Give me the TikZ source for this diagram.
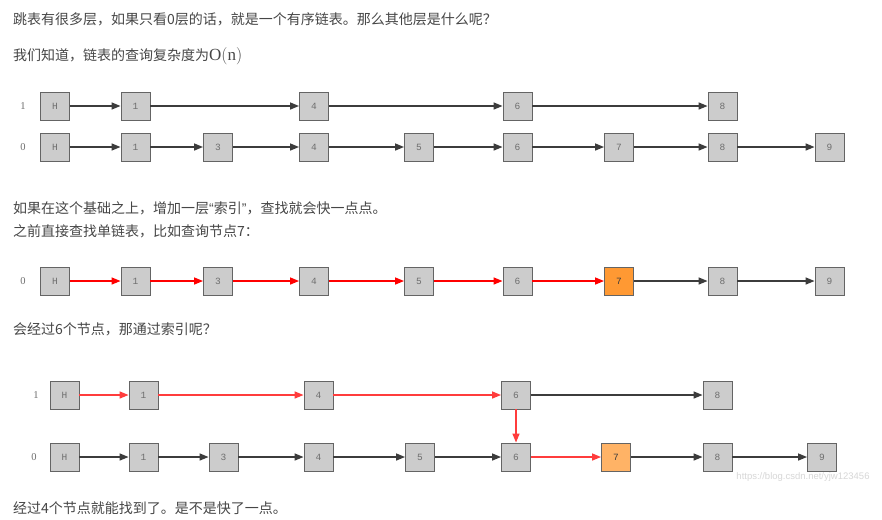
\documentclass[tikz,border=0pt]{standalone}
\usepackage{fontspec}
\setmainfont{Liberation Serif}
\setmonofont{Liberation Mono}
\newfontfamily\cjk{Noto Sans CJK SC}
\newfontfamily\wmfont{Liberation Sans}
\usetikzlibrary{arrows.meta}
\definecolor{sknode}{RGB}{204,204,204}
\definecolor{skedge}{RGB}{100,100,100}
\definecolor{sklabel}{RGB}{110,110,110}
\definecolor{skgray}{RGB}{60,60,60}
\definecolor{skred}{RGB}{255,0,0}
\definecolor{skredl}{RGB}{255,60,60}
\definecolor{skorange}{RGB}{255,153,51}
\definecolor{skorangel}{RGB}{255,179,102}
\definecolor{sktext}{RGB}{70,70,70}
\definecolor{skmark}{RGB}{215,215,215}
\tikzset{
  skbox/.style={rectangle, draw=skedge, fill=sknode, line width=0.9pt, inner sep=0pt,
                minimum width=29pt, minimum height=28pt, text=sklabel,
                font=\ttfamily\fontsize{9.5}{9.5}\selectfont},
  skarr/.style={-{Triangle[length=9pt,width=7pt]}, line width=1.4pt, skgray},
  sklvl/.style={text=sklabel, inner sep=0pt, font=\fontsize{10.5}{10.5}\selectfont},
  sktxt/.style={anchor=west, inner sep=0pt, text=sktext, font=\cjk\fontsize{14}{14}\selectfont},
}
\begin{document}
\begin{tikzpicture}[x=1pt,y=-1pt]
    \useasboundingbox[fill=white] (0,0) rectangle (882,519);
    % texts
    \node[sktxt](t1) at (13,19){跳表有很多层，如果只看0层的话，就是一个有序链表。那么其他层是什么呢？};
    \node[sktxt](t2) at (13,56){我们知道，链表的查询复杂度为{\fontsize{17}{17}\selectfont$\mathrm{O}(\mathrm{n})$}};
    \node[sktxt](t3) at (13,208){如果在这个基础之上，增加一层{\wmfont “}索引{\wmfont ”}，查找就会快一点点。};
    \node[sktxt](t4) at (13,231){之前直接查找单链表，比如查询节点7：};
    \node[sktxt](t5) at (13,329){会经过6个节点，那通过索引呢？};
    \node[sktxt](t6) at (13,508){经过4个节点就能找到了。是不是快了一点。};
    % first list, two levels
    \node[sklvl](a1l) at (23,106){1};
    \node[sklvl](a0l) at (23,147){0};
    \node[skbox](a1H) at (55,106){H};
    \node[skbox](a1n1) at (135.5,106){1};
    \node[skbox](a1n4) at (314,106){4};
    \node[skbox](a1n6) at (517.5,106){6};
    \node[skbox](a1n8) at (722.5,106){8};
    \node[skbox](a0H) at (55,147){H};
    \node[skbox](a0n1) at (135.5,147){1};
    \node[skbox](a0n3) at (218,147){3};
    \node[skbox](a0n4) at (314,147){4};
    \node[skbox](a0n5) at (419,147){5};
    \node[skbox](a0n6) at (517.5,147){6};
    \node[skbox](a0n7) at (619,147){7};
    \node[skbox](a0n8) at (722.5,147){8};
    \node[skbox](a0n9) at (829.5,147){9};
    \draw[skarr](a1H)--(a1n1);\draw[skarr](a1n1)--(a1n4);\draw[skarr](a1n4)--(a1n6);\draw[skarr](a1n6)--(a1n8);
    \draw[skarr](a0H)--(a0n1);\draw[skarr](a0n1)--(a0n3);\draw[skarr](a0n3)--(a0n4);\draw[skarr](a0n4)--(a0n5);
    \draw[skarr](a0n5)--(a0n6);\draw[skarr](a0n6)--(a0n7);\draw[skarr](a0n7)--(a0n8);\draw[skarr](a0n8)--(a0n9);
    % search without index
    \node[sklvl](b0l) at (23,281){0};
    \node[skbox](b0H) at (55,281){H};
    \node[skbox](b0n1) at (135.5,281){1};
    \node[skbox](b0n3) at (218,281){3};
    \node[skbox](b0n4) at (314,281){4};
    \node[skbox](b0n5) at (419,281){5};
    \node[skbox](b0n6) at (517.5,281){6};
    \node[skbox,fill=skorange,text=skgray](b0n7) at (619,281){7};
    \node[skbox](b0n8) at (722.5,281){8};
    \node[skbox](b0n9) at (829.5,281){9};
    \draw[skarr,skred](b0H)--(b0n1);\draw[skarr,skred](b0n1)--(b0n3);\draw[skarr,skred](b0n3)--(b0n4);
    \draw[skarr,skred](b0n4)--(b0n5);\draw[skarr,skred](b0n5)--(b0n6);\draw[skarr,skred](b0n6)--(b0n7);
    \draw[skarr](b0n7)--(b0n8);\draw[skarr](b0n8)--(b0n9);
    % search with index
    \node[sklvl](c1l) at (36,395){1};
    \node[sklvl](c0l) at (34,457){0};
    \node[skbox](c1H) at (64.5,395){H};
    \node[skbox](c1n1) at (143.5,395){1};
    \node[skbox](c1n4) at (318.5,395){4};
    \node[skbox](c1n6) at (516,395){6};
    \node[skbox](c1n8) at (717.5,395){8};
    \node[skbox](c0H) at (64.5,457){H};
    \node[skbox](c0n1) at (143.5,457){1};
    \node[skbox](c0n3) at (223.5,457){3};
    \node[skbox](c0n4) at (318.5,457){4};
    \node[skbox](c0n5) at (420,457){5};
    \node[skbox](c0n6) at (516,457){6};
    \node[skbox,fill=skorangel,text=skgray](c0n7) at (616,457){7};
    \node[skbox](c0n8) at (717.5,457){8};
    \node[skbox](c0n9) at (822,457){9};
    \draw[skarr,skredl](c1H)--(c1n1);\draw[skarr,skredl](c1n1)--(c1n4);\draw[skarr,skredl](c1n4)--(c1n6);
    \draw[skarr](c1n6)--(c1n8);
    \draw[skarr,skredl](c1n6)--(c0n6);
    \draw[skarr](c0H)--(c0n1);\draw[skarr](c0n1)--(c0n3);\draw[skarr](c0n3)--(c0n4);\draw[skarr](c0n4)--(c0n5);
    \draw[skarr](c0n5)--(c0n6);\draw[skarr,skredl](c0n6)--(c0n7);\draw[skarr](c0n7)--(c0n8);\draw[skarr](c0n8)--(c0n9);
    % watermark
    \node[text=skmark,inner sep=0pt,font=\wmfont\fontsize{9.5}{9.5}\selectfont](wm) at (803,477){https://blog.csdn.net/yjw123456};
\end{tikzpicture}
\end{document}
